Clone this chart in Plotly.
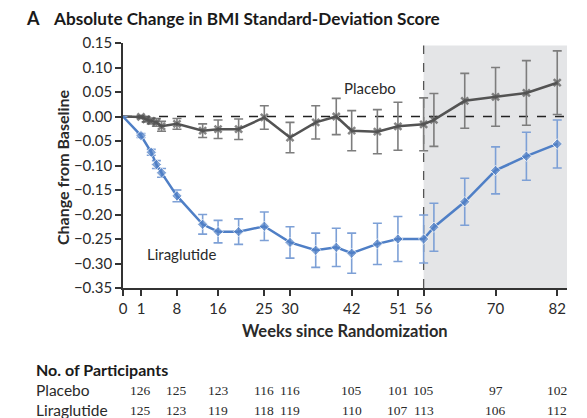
import plotly.graph_objects as go

# ---------------- data ----------------
placebo_weeks = [0, 1, 2, 3, 4, 5, 8, 13, 16, 20, 25, 30, 35, 39, 42, 47, 51, 56, 58, 64, 70, 76, 82]
placebo_mean = [0.0, -0.001, -0.006, -0.009, -0.012, -0.020, -0.015, -0.029, -0.026, -0.026, -0.002,
                -0.043, -0.012, 0.000, -0.029, -0.031, -0.020, -0.016, -0.007, 0.032, 0.040, 0.048, 0.069]
placebo_err = [None, 0.003, 0.005, 0.006, 0.008, 0.010, 0.011, 0.014, 0.019, 0.021, 0.024,
               0.031, 0.034, 0.037, 0.041, 0.045, 0.049, 0.054, 0.054, 0.056, 0.060, 0.066, 0.065]

lira_weeks = [0, 1, 3, 4, 5, 8, 13, 16, 20, 25, 30, 35, 39, 42, 47, 51, 56, 58, 64, 70, 76, 82]
lira_mean = [0.0, -0.039, -0.073, -0.098, -0.115, -0.162, -0.220, -0.235, -0.235, -0.224, -0.257,
             -0.273, -0.267, -0.279, -0.260, -0.250, -0.250, -0.226, -0.174, -0.110, -0.081, -0.056]
lira_err = [None, 0.004, 0.006, 0.008, 0.009, 0.012, 0.020, 0.023, 0.026, 0.029, 0.032,
            0.035, 0.039, 0.041, 0.042, 0.046, 0.049, 0.049, 0.048, 0.048, 0.049, 0.049]

tick_weeks = [0, 1, 8, 16, 25, 30, 42, 51, 56, 70, 82]
y_ticks = [0.15, 0.10, 0.05, 0.00, -0.05, -0.10, -0.15, -0.20, -0.25, -0.30, -0.35]

table_weeks = [1, 8, 16, 25, 30, 42, 51, 56, 70, 82]
placebo_n = [126, 125, 123, 116, 116, 105, 101, 105, 97, 102]
lira_n = [125, 123, 119, 118, 119, 110, 107, 113, 106, 112]

open_label_start = 56

# ---------------- layout helpers ----------------
X_START = -2.5   # week 0 is drawn at the axis origin
X_END = 83.9
Y_MIN, Y_MAX = -0.35, 0.15


def xpos(w):
    return X_START if w == 0 else w


FONT = "Lato"
TEXT = "#2a2a2a"
PLACEBO_LINE = "#535353"
PLACEBO_ERR = "#7d7d7d"
LIRA_LINE = "#4f7fc6"
LIRA_ERR = "#7da0d6"

fig = go.Figure()

fig.add_trace(go.Scatter(
    x=[xpos(w) for w in placebo_weeks], y=placebo_mean,
    mode="lines+markers",
    line=dict(color=PLACEBO_LINE, width=2.5),
    marker=dict(symbol="x-thin", size=[0] + [7] * (len(placebo_weeks) - 1),
                color=PLACEBO_LINE, line=dict(color=PLACEBO_LINE, width=2.5)),
    error_y=dict(type="data", array=placebo_err, visible=True,
                 color=PLACEBO_ERR, thickness=1.6, width=4.5),
    showlegend=False, cliponaxis=False,
))

fig.add_trace(go.Scatter(
    x=[xpos(w) for w in lira_weeks], y=lira_mean,
    mode="lines+markers",
    line=dict(color=LIRA_LINE, width=2.5),
    marker=dict(symbol="diamond", size=[0] + [8] * (len(lira_weeks) - 1), color=LIRA_LINE),
    error_y=dict(type="data", array=lira_err, visible=True,
                 color=LIRA_ERR, thickness=1.6, width=4.5),
    showlegend=False, cliponaxis=False,
))

# shaded open-label period and reference lines
fig.add_shape(type="rect", xref="x", yref="y", x0=open_label_start, x1=X_END,
              y0=Y_MIN, y1=0.145, fillcolor="#e4e5e7", line_width=0, layer="below")
fig.add_shape(type="line", xref="x", yref="y", x0=open_label_start, x1=open_label_start,
              y0=Y_MIN, y1=0.145, line=dict(color="#555555", width=1.3, dash="dash"), layer="below")
fig.add_shape(type="line", xref="x", yref="y", x0=X_START, x1=X_END,
              y0=0, y1=0, line=dict(color="#222222", width=1.3, dash="dash"), layer="below")

fig.update_xaxes(
    range=[X_START, X_END], tickvals=[xpos(w) for w in tick_weeks],
    ticktext=[str(w) for w in tick_weeks],
    showgrid=False, zeroline=False, showline=True, linecolor="#333333", linewidth=1.5,
    ticks="outside", ticklen=6, tickwidth=1.5, tickcolor="#333333",
    tickfont=dict(family=FONT, size=15, color=TEXT),
)
fig.update_yaxes(
    range=[Y_MIN, Y_MAX], tickvals=y_ticks,
    ticktext=[f"{v:.2f}".replace("-", "\u2212") for v in y_ticks],
    showgrid=False, zeroline=False, showline=True, linecolor="#333333", linewidth=1.5,
    ticks="outside", ticklen=6, tickwidth=1.5, tickcolor="#333333",
    tickfont=dict(family=FONT, size=15, color=TEXT),
)

PLOT_L, PLOT_R, PLOT_T, PLOT_B = 123, 567, 43, 288
W, H = 587, 418


def px_x(p):
    return (p - PLOT_L) / (PLOT_R - PLOT_L)


def px_y(p):
    return (PLOT_B - p) / (PLOT_B - PLOT_T)


ann = []
ann.append(dict(text="<b>A</b>", x=px_x(24), y=px_y(18), xref="paper", yref="paper",
                xanchor="left", yanchor="middle", showarrow=False,
                font=dict(family=FONT, size=18, color="#1a1a1a")))
ann.append(dict(text="<b>Absolute Change in BMI Standard-Deviation Score</b>", x=px_x(51), y=px_y(18),
                xref="paper", yref="paper", xanchor="left", yanchor="middle", showarrow=False,
                font=dict(family=FONT, size=17.2, color="#1a1a1a")))
ann.append(dict(text="<b>Change from Baseline</b>", x=px_x(62), y=px_y(167), xref="paper", yref="paper",
                xanchor="center", yanchor="middle", textangle=-90, showarrow=False,
                font=dict(family=FONT, size=16, color=TEXT)))
ann.append(dict(text="<b>Weeks since Randomization</b>", x=px_x(345), y=px_y(331), xref="paper", yref="paper",
                xanchor="center", yanchor="middle", showarrow=False,
                font=dict(family=FONT, size=16.5, color=TEXT)))
ann.append(dict(text="Placebo", x=40.2, y=0.058, xref="x", yref="y", xanchor="left", yanchor="middle",
                showarrow=False, font=dict(family=FONT, size=15, color=TEXT)))
ann.append(dict(text="Liraglutide", x=1.8, y=-0.280, xref="x", yref="y", xanchor="left", yanchor="middle",
                showarrow=False, font=dict(family=FONT, size=15, color=TEXT)))

ann.append(dict(text="<b>No. of Participants</b>", x=px_x(34), y=px_y(369), xref="paper", yref="paper",
                xanchor="left", yanchor="middle", showarrow=False,
                font=dict(family=FONT, size=16, color="#1a1a1a")))
for label, counts, ypix in [("Placebo", placebo_n, 390), ("Liraglutide", lira_n, 410)]:
    ann.append(dict(text=label, x=px_x(34), y=px_y(ypix), xref="paper", yref="paper",
                    xanchor="left", yanchor="middle", showarrow=False,
                    font=dict(family=FONT, size=15.5, color=TEXT)))
    for w, n in zip(table_weeks, counts):
        ann.append(dict(text=str(n), x=w, y=px_y(ypix), xref="x", yref="paper",
                        xanchor="center", yanchor="middle", showarrow=False,
                        font=dict(family="Liberation Serif", size=13.5, color=TEXT)))

fig.update_layout(
    width=W, height=H,
    margin=dict(l=PLOT_L, r=W - PLOT_R, t=PLOT_T, b=H - PLOT_B),
    paper_bgcolor="white", plot_bgcolor="white",
    annotations=ann,
    font=dict(family=FONT),
)

fig.write_html("out.html",
               config={"displayModeBar": False},
               post_script="document.body.style.margin='0';document.body.style.padding='0';"
                           "document.body.style.overflow='hidden';")
